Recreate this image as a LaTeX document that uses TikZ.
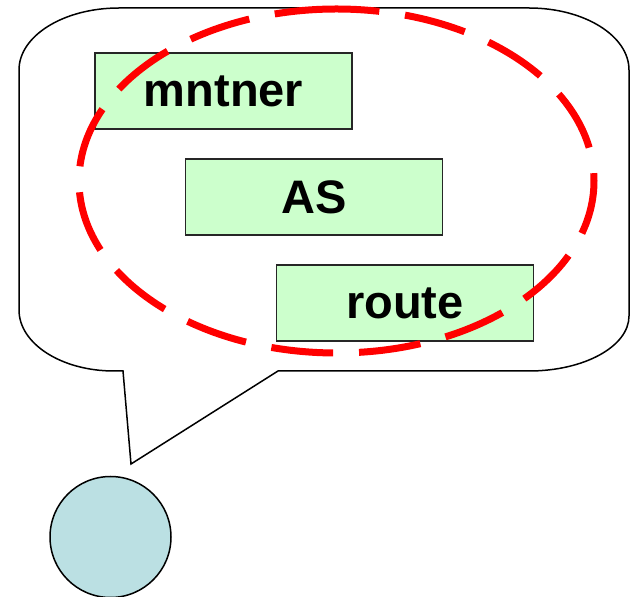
\documentclass[tikz,border=0pt]{standalone}
\usepackage{fontspec}
\setmainfont{Liberation Sans}
\usepackage{xcolor}
\usepackage{tikz}

\definecolor{objgreen}{RGB}{204,255,204}
\definecolor{hostblue}{RGB}{187,224,227}

\begin{document}
\begin{tikzpicture}[
  x=1pt, y=1pt,
  object/.style={
    rectangle,
    draw=black!85,
    fill=#1,
    line width=1.5pt,
    minimum width=257pt,
    minimum height=76pt,
    font=\fontsize{47}{50}\selectfont\bfseries,
    align=center
  },
  bubble/.style={
    draw=black,
    fill=white,
    line width=1.5pt,
    line join=miter
  },
  group/.style={
    draw=red,
    line width=7pt,
    dash pattern=on 62pt off 26pt
  }
]
\useasboundingbox (0,0) rectangle (630,597);

% Speech bubble with its tail
\draw[bubble] (19,527)
  arc[start angle=180, end angle=90, x radius=100pt, y radius=62pt]
  -- (529,589)
  arc[start angle=90, end angle=0, x radius=100pt, y radius=62pt]
  -- (629,281)
  arc[start angle=0, end angle=-90, x radius=100pt, y radius=55pt]
  -- (278,226) -- (131,133) -- (123,226) -- (114,226)
  arc[start angle=270, end angle=180, x radius=95pt, y radius=61pt]
  -- cycle;

% Database objects
\node[object=objgreen] (mntner) at (223.5,506) {mntner};
\node[object=objgreen] (as) at (314,400) {AS};
\node[object=objgreen] (route) at (405,294) {route};

% Dashed grouping around the objects, started at the top
\draw[group] (336.5,588)
  arc[start angle=90, end angle=450, x radius=257.5pt, y radius=172pt];

% Host below the bubble
\node[circle, draw, line width=1.5pt, fill=hostblue, minimum size=121pt, inner sep=0pt] (host) at (110.5,60) {};
\end{tikzpicture}
\end{document}
